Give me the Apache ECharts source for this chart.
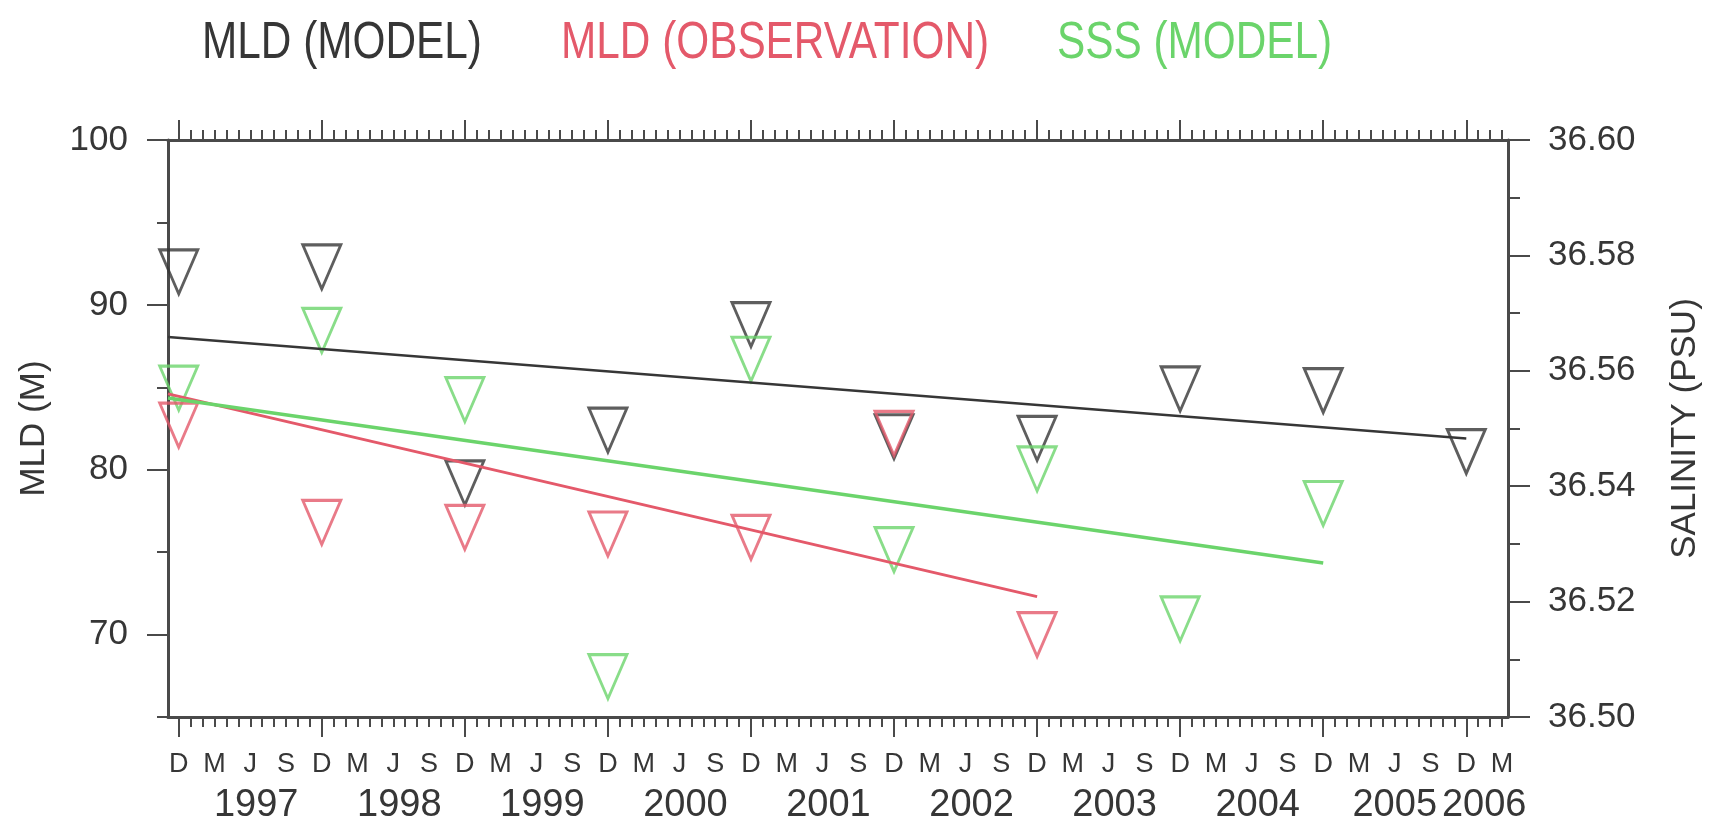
<!DOCTYPE html>
<html>
<head>
<meta charset="utf-8">
<title>MLD / SSS</title>
<script src="https://cdn.jsdelivr.net/npm/echarts@6.0.0/dist/echarts.min.js"></script>
<style>
    html, body { margin: 0; padding: 0; background: #fff; }
    #chart { width: 1709px; height: 832px; }
</style>
</head>
<body>
<div id="chart"></div>
<script>
// x values are months counted from Dec 1996
var xMin = -0.9, xMax = 111.5;
var pointMonths = [0, 12, 24, 36, 48, 60, 72, 84, 96, 108];

var mldModel = [92.0, 92.3, 79.2, 82.4, 88.8, 82.0, 81.9, 84.9, 84.8, 81.1];
var mldObs = [82.7, 76.8, 76.5, 76.1, 75.9, 82.2, 70.0];
var sssModel = [36.557, 36.567, 36.555, 36.507, 36.562, 36.529, 36.543, 36.517, 36.537];

// linear trends: start / end
var mldModelFitX = [-0.9, 108], mldModelFit = [88.05, 81.9];
var mldObsFitX = [-0.9, 72], mldObsFit = [84.6, 72.3];
var sssFitX = [-0.9, 96], sssFit = [36.5553, 36.5267];

var seriesNames = ['MLD (MODEL)', 'MLD (OBSERVATION)', 'SSS (MODEL)'];
var monthLetters = ['D', 'M', 'J', 'S'];
var yearLabels = ['1997', '1998', '1999', '2000', '2001', '2002', '2003', '2004', '2005', '2006'];
var yearPos = [6.5, 18.5, 30.5, 42.5, 54.5, 66.5, 78.5, 90.5, 102, 109.5];
var mldTicks = [70, 80, 90, 100];
var mldMinor = [65, 70, 75, 80, 85, 90, 95, 100];
var salTicks = [36.50, 36.52, 36.54, 36.56, 36.58, 36.60];
var salMinor = [36.50, 36.51, 36.52, 36.53, 36.54, 36.55, 36.56, 36.57, 36.58, 36.59, 36.60];

var BLACK = '#363636', RED = '#e4596a', GREEN = '#6bd46b';
var AX = '#4a4a4a';
var FONT = 'Liberation Sans';

var majorMonths = [], allMonths = [], letterPos = [];
for (var m = 0; m <= 108; m += 12) majorMonths.push(m);
for (var m = 0; m <= 111; m++) allMonths.push(m);
for (var m = 0; m <= 111; m += 3) letterPos.push(m);

function zip(xs, ys) {
    return ys.map(function (v, i) { return [xs[i], v]; });
}

function xAx(pos, ticks, len, showLine, label) {
    return {
        type: 'value', position: pos, min: xMin, max: xMax,
        axisLine: { show: showLine, onZero: false, lineStyle: { color: AX, width: 3 } },
        axisTick: { show: true, length: len, customValues: ticks, lineStyle: { color: AX, width: 2 } },
        axisLabel: label || { show: false },
        splitLine: { show: false }
    };
}

function yAx(pos, min, max, ticks, len, showLine, label, extra) {
    var a = {
        type: 'value', position: pos, min: min, max: max,
        axisLine: { show: showLine, onZero: false, lineStyle: { color: AX, width: 3 } },
        axisTick: { show: true, length: len, customValues: ticks, lineStyle: { color: AX, width: 2 } },
        axisLabel: label || { show: false },
        splitLine: { show: false }
    };
    return Object.assign(a, extra || {});
}

var marker = function (color) {
    return {
        symbol: 'triangle', symbolRotate: 180, symbolSize: [38, 44],
        itemStyle: { color: 'rgba(0,0,0,0)', borderColor: color, borderWidth: 3 }
    };
};

// heading text, drawn narrow like the original plot
function heading(text, x, color) {
    return {
        type: 'text', x: x, y: 44, scaleX: 0.83,
        style: { text: text, fill: color, fontFamily: FONT, fontSize: 51, verticalAlign: 'middle' }
    };
}

var myChart = echarts.init(document.getElementById('chart'));
var option = {
    backgroundColor: '#fff',
    animation: false,
    graphic: [
        heading(seriesNames[0], 202, BLACK),
        heading(seriesNames[1], 561, RED),
        heading(seriesNames[2], 1057, GREEN)
    ],
    grid: { left: 168, right: 201, top: 140, bottom: 115, containLabel: false, outerBoundsMode: 'none' },
    xAxis: [
        xAx('bottom', majorMonths, 20, true, {
            show: true, customValues: letterPos, margin: 34,
            showMinLabel: true, showMaxLabel: true,
            fontFamily: FONT, fontSize: 27, color: BLACK,
            formatter: function (v) { return monthLetters[Math.round(v / 3) % 4]; }
        }),
        xAx('bottom', allMonths, 10, false, {
            show: true, customValues: yearPos, margin: 70,
            showMinLabel: true, showMaxLabel: true, hideOverlap: false,
            fontFamily: FONT, fontSize: 38, color: BLACK,
            formatter: function (v) {
                var i = yearPos.indexOf(v);
                return i < 0 ? '' : yearLabels[i];
            }
        }),
        xAx('top', majorMonths, 20, true),
        xAx('top', allMonths, 10, false)
    ],
    yAxis: [
        yAx('left', 65, 100, mldTicks, 21, true, {
            show: true, customValues: mldTicks, margin: 40,
            fontFamily: FONT, fontSize: 35, color: BLACK
        }, {
            name: 'MLD (M)', nameLocation: 'middle', nameRotate: 90, nameGap: 116,
            nameTextStyle: { fontFamily: FONT, fontSize: 35, color: BLACK }
        }),
        yAx('left', 65, 100, mldMinor, 11, false),
        yAx('right', 36.5, 36.6, salTicks, 22, true, {
            show: true, customValues: salTicks, margin: 40,
            fontFamily: FONT, fontSize: 35, color: BLACK,
            formatter: function (v) { return v.toFixed(2); }
        }, {
            name: 'SALINITY (PSU)', nameLocation: 'middle', nameRotate: 90, nameGap: 160,
            nameTextStyle: { fontFamily: FONT, fontSize: 35, color: BLACK }
        }),
        yAx('right', 36.5, 36.6, salMinor, 12, false)
    ],
    series: [
        {
            name: 'MLD (MODEL) trend', type: 'line', xAxisIndex: 0, yAxisIndex: 0,
            data: zip(mldModelFitX, mldModelFit), symbol: 'none',
            lineStyle: { color: BLACK, width: 2.5 }
        },
        {
            name: 'MLD (OBSERVATION) trend', type: 'line', xAxisIndex: 0, yAxisIndex: 0,
            data: zip(mldObsFitX, mldObsFit), symbol: 'none',
            lineStyle: { color: RED, width: 3 }
        },
        {
            name: 'SSS (MODEL) trend', type: 'line', xAxisIndex: 0, yAxisIndex: 2,
            data: zip(sssFitX, sssFit), symbol: 'none',
            lineStyle: { color: GREEN, width: 3.5 }
        },
        Object.assign({
            name: seriesNames[0], type: 'scatter', xAxisIndex: 0, yAxisIndex: 0,
            data: zip(pointMonths, mldModel)
        }, marker(BLACK)),
        Object.assign({
            name: seriesNames[2], type: 'scatter', xAxisIndex: 0, yAxisIndex: 2,
            data: zip(pointMonths, sssModel)
        }, marker(GREEN)),
        Object.assign({
            name: seriesNames[1], type: 'scatter', xAxisIndex: 0, yAxisIndex: 0,
            data: zip(pointMonths, mldObs)
        }, marker(RED))
    ]
};
myChart.setOption(option);
</script>
</body>
</html>
